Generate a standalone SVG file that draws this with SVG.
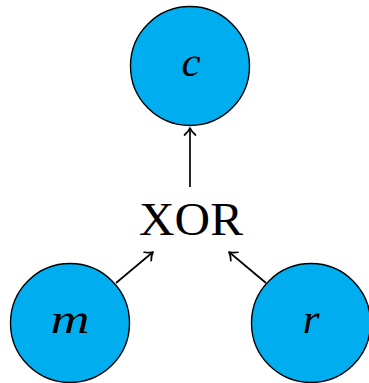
<svg xmlns="http://www.w3.org/2000/svg" width="369" height="383" viewBox="0 0 369 383">
<style>
.node{fill:#00AEEF;stroke:#000;stroke-width:1.4}
.lbl{font-family:"Liberation Serif",serif;font-style:italic;font-size:43px;fill:#000;text-anchor:middle}
.op{font-family:"Liberation Serif",serif;font-size:46px;fill:#000;text-anchor:middle}
.edge{stroke:#000;stroke-width:1.7;fill:none;marker-end:url(#ah)}
</style>
<defs>
<marker id="ah" markerWidth="14" markerHeight="14" refX="10" refY="7" orient="auto" markerUnits="userSpaceOnUse">
<path d="M3,1.5 Q6.5,5.5 10,7 Q6.5,8.5 3,12.5" fill="none" stroke="#000" stroke-width="1.7" stroke-linecap="round" stroke-linejoin="round"/>
</marker>
</defs>
<g id="node-c"><circle class="node" cx="190" cy="66" r="59.5"/><text class="lbl" x="191" y="76">c</text></g>
<g id="node-xor"><text class="op" x="191" y="235" textLength="104" lengthAdjust="spacingAndGlyphs">XOR</text></g>
<g id="node-m"><circle class="node" cx="70" cy="323" r="59.5"/><text class="lbl" x="70" y="333" textLength="39" lengthAdjust="spacingAndGlyphs">m</text></g>
<g id="node-r"><circle class="node" cx="311" cy="323" r="59.5"/><text class="lbl" x="311" y="333">r</text></g>
<g id="edges">
<line class="edge" x1="190" y1="187" x2="190" y2="128"/>
<line class="edge" x1="116" y1="283" x2="153" y2="252"/>
<line class="edge" x1="266" y1="283" x2="229" y2="252"/>
</g>
</svg>
